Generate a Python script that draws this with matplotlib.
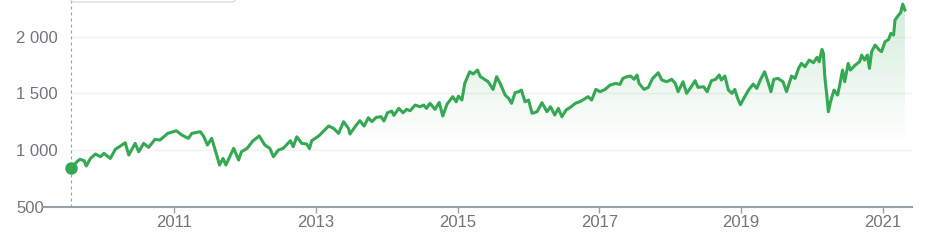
import numpy as np
import matplotlib
matplotlib.use("Agg")
import matplotlib.pyplot as plt
from matplotlib.patches import FancyBboxPatch
from matplotlib.colors import to_rgb
from matplotlib.transforms import IdentityTransform

# ---- data (decimal year, index value) ----
years = [
    2009.54, 2009.63, 2009.67, 2009.73, 2009.76, 2009.82, 2009.89, 2009.96, 2010.01, 2010.10,
    2010.17, 2010.31, 2010.36, 2010.45, 2010.50, 2010.57, 2010.64, 2010.73, 2010.80, 2010.91,
    2011.03, 2011.11, 2011.20, 2011.25, 2011.37, 2011.42, 2011.47, 2011.53, 2011.60, 2011.64,
    2011.69, 2011.73, 2011.84, 2011.91, 2011.95, 2012.03, 2012.11, 2012.20, 2012.28, 2012.35,
    2012.40, 2012.47, 2012.54, 2012.64, 2012.68, 2012.73, 2012.80, 2012.87, 2012.91, 2012.94,
    2013.04, 2013.18, 2013.25, 2013.32, 2013.39, 2013.46, 2013.48, 2013.57, 2013.62, 2013.68,
    2013.74, 2013.79, 2013.85, 2013.92, 2013.96, 2014.01, 2014.07, 2014.10, 2014.17, 2014.23,
    2014.28, 2014.33, 2014.40, 2014.47, 2014.52, 2014.56, 2014.61, 2014.68, 2014.74, 2014.79,
    2014.85, 2014.93, 2014.98, 2015.01, 2015.06, 2015.10, 2015.17, 2015.22, 2015.28, 2015.32,
    2015.36, 2015.43, 2015.50, 2015.55, 2015.60, 2015.67, 2015.72, 2015.76, 2015.81, 2015.86,
    2015.90, 2015.95, 2016.00, 2016.05, 2016.12, 2016.19, 2016.26, 2016.31, 2016.37, 2016.42,
    2016.47, 2016.53, 2016.60, 2016.66, 2016.72, 2016.78, 2016.84, 2016.89, 2016.95, 2017.01,
    2017.08, 2017.15, 2017.23, 2017.29, 2017.33, 2017.39, 2017.44, 2017.49, 2017.53, 2017.56,
    2017.63, 2017.69, 2017.75, 2017.83, 2017.88, 2017.95, 2018.02, 2018.07, 2018.11, 2018.18,
    2018.23, 2018.28, 2018.35, 2018.39, 2018.47, 2018.52, 2018.58, 2018.64, 2018.69, 2018.72,
    2018.77, 2018.82, 2018.87, 2018.91, 2018.95, 2018.99, 2019.05, 2019.11, 2019.17, 2019.22,
    2019.27, 2019.33, 2019.37, 2019.42, 2019.46, 2019.52, 2019.59, 2019.64, 2019.71, 2019.76,
    2019.81, 2019.85, 2019.90, 2019.96, 2020.02, 2020.07, 2020.10, 2020.14, 2020.16, 2020.18,
    2020.21, 2020.23, 2020.26, 2020.31, 2020.36, 2020.39, 2020.43, 2020.46, 2020.51, 2020.54,
    2020.61, 2020.67, 2020.70, 2020.74, 2020.78, 2020.81, 2020.84, 2020.89, 2020.95, 2020.98,
    2021.03, 2021.08, 2021.11, 2021.15, 2021.17, 2021.22, 2021.25, 2021.28, 2021.31,
]
values = [
    838, 897, 918, 906, 859, 926, 965, 941, 971, 926,
    1006, 1064, 956, 1059, 985, 1059, 1024, 1094, 1088, 1147,
    1170, 1132, 1103, 1147, 1162, 1117, 1044, 1103, 956, 868,
    926, 868, 1015, 912, 985, 1015, 1080, 1124, 1044, 1015,
    941, 1000, 1015, 1082, 1029, 1117, 1059, 1053, 1012, 1082,
    1124, 1212, 1191, 1147, 1250, 1191, 1141, 1221, 1259, 1212,
    1285, 1250, 1288, 1294, 1256, 1329, 1344, 1306, 1368, 1329,
    1359, 1347, 1397, 1382, 1397, 1368, 1412, 1359, 1420, 1300,
    1405, 1471, 1426, 1476, 1441, 1588, 1691, 1671, 1706, 1647,
    1632, 1603, 1535, 1647, 1588, 1485, 1456, 1412, 1506, 1515,
    1529, 1426, 1441, 1324, 1338, 1418, 1338, 1382, 1309, 1368,
    1294, 1353, 1382, 1412, 1426, 1447, 1471, 1441, 1535, 1515,
    1535, 1573, 1588, 1579, 1632, 1647, 1653, 1625, 1662, 1588,
    1535, 1553, 1632, 1682, 1618, 1603, 1624, 1588, 1515, 1603,
    1500, 1544, 1612, 1553, 1559, 1515, 1612, 1624, 1662, 1618,
    1653, 1529, 1500, 1535, 1456, 1400, 1471, 1535, 1582, 1544,
    1618, 1691, 1618, 1515, 1624, 1632, 1603, 1515, 1653, 1632,
    1721, 1765, 1735, 1794, 1771, 1818, 1779, 1888, 1853, 1647,
    1471, 1338, 1426, 1529, 1485, 1573, 1706, 1603, 1765, 1706,
    1750, 1779, 1838, 1794, 1838, 1721, 1868, 1926, 1882, 1868,
    1956, 1976, 2029, 2015, 2147, 2191, 2212, 2288, 2236,
]
x_ticks = [2011, 2013, 2015, 2017, 2019, 2021]
x_tick_labels = ["2011", "2013", "2015", "2017", "2019", "2021"]
y_ticks = [500, 1000, 1500, 2000]
y_tick_labels = ["500", "1 000", "1 500", "2 000"]

# ---- style ----
GREEN = "#34a853"
AXIS_GRAY = "#9aa0a6"
TEXT_GRAY = "#70757a"
GRID = "#f1f1f1"
plt.rcParams["font.family"] = ["Liberation Sans", "DejaVu Sans"]

W, H = 931, 250
fig = plt.figure(figsize=(W / 100, H / 100), dpi=100)
x0, x1, ybase = 43, 912, 206.7
ax = fig.add_axes([x0 / W, 1 - ybase / H, (x1 - x0) / W, ybase / H])
XMIN, XMAX = 2009.15, 2021.41
YMIN, YMAX = 500, 2324
ax.set_xlim(XMIN, XMAX)
ax.set_ylim(YMIN, YMAX)

# gridlines (start at the first data point)
ax.hlines(y_ticks[1:], years[0], XMAX, colors=GRID, lw=1.0, zorder=0)

# gradient fill under the line
rgb = to_rgb(GREEN)
lv = np.linspace(YMIN, YMAX, 256)
alpha = np.clip((lv - 1050) / (YMAX - 1050), 0, 1) * 0.22
grad = np.zeros((256, 1, 4))
grad[..., 0], grad[..., 1], grad[..., 2] = rgb
grad[..., 3] = alpha[:, None]
im = ax.imshow(grad, extent=[XMIN, XMAX, YMIN, YMAX], origin="lower",
               aspect="auto", zorder=1, interpolation="bilinear")
poly = ax.fill_between(years, values, YMIN, facecolor="none", edgecolor="none")
im.set_clip_path(poly.get_paths()[0], transform=ax.transData)

# dotted vertical marker line
ax.axvline(years[0], color=AXIS_GRAY, lw=0.8, dashes=(2.7, 2.7), zorder=2)

# the series
ax.plot(years, values, color=GREEN, lw=2.2, zorder=3, solid_joinstyle="round")
ax.plot([years[0]], [values[0]], "o", ms=8, color=GREEN, zorder=4, clip_on=False)

# axes styling
for s in ("left", "right", "top"):
    ax.spines[s].set_visible(False)
ax.spines["bottom"].set_color(AXIS_GRAY)
ax.spines["bottom"].set_linewidth(1.5)
ax.set_xticks(x_ticks, x_tick_labels)
ax.set_yticks(y_ticks, y_tick_labels)
ax.tick_params(axis="x", direction="out", length=4.5, width=1.0, color=AXIS_GRAY,
               labelcolor=TEXT_GRAY, labelsize=12, pad=1.5)
ax.tick_params(axis="y", length=0, labelcolor=TEXT_GRAY, labelsize=12,
               pad=(x0 - 16) * 0.72)
for lab in ax.get_yticklabels():
    lab.set_horizontalalignment("left")

# cut-off tooltip box at the top
box = FancyBboxPatch((70.5, H - 2.0), 165, 40,
                     boxstyle="round,pad=0,rounding_size=4",
                     transform=IdentityTransform(), facecolor="white",
                     edgecolor="#dadce0", lw=1.0, clip_on=False, zorder=10)
fig.patches.append(box)

fig.savefig("out.png", dpi=100)
